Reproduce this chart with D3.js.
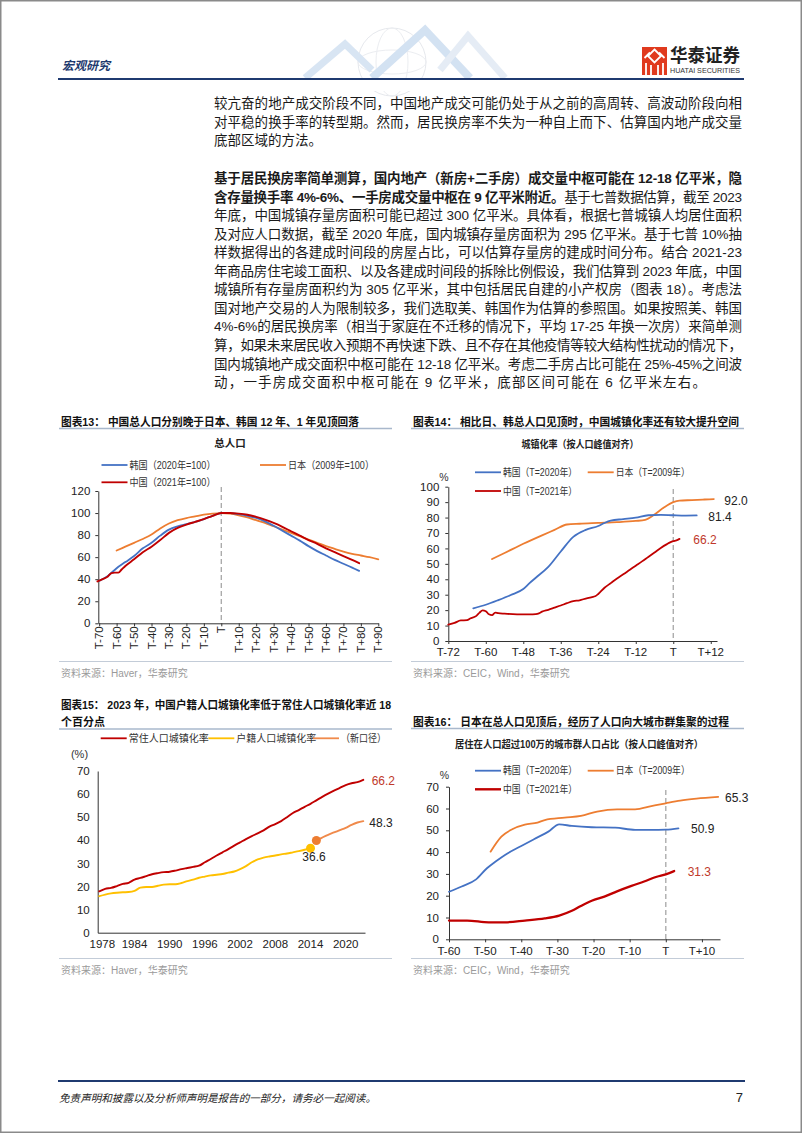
<!DOCTYPE html>
<html><head><meta charset="utf-8">
<script src="https://cdn.jsdelivr.net/npm/d3@7"></script>
<style>
body{margin:0;background:#fff;}
svg{display:block;}
text{font-family:"Liberation Sans","Noto Sans CJK SC",sans-serif;}
</style></head><body>
<svg id="page" width="802" height="1133"></svg>
<script>
// ---------- DATA ----------
// Body text lines (segments: [text, bold])
const para1 = [
  [["较亢奋的地产成交阶段不同，中国地产成交可能仍处于从之前的高周转、高波动阶段向相", false]],
  [["对平稳的换手率的转型期。然而，居民换房率不失为一种自上而下、估算国内地产成交量", false]],
  [["底部区域的方法。", false]]
];
const para2 = [
  [["基于居民换房率简单测算，国内地产（新房+二手房）成交量中枢可能在 12-18 亿平米，隐", true]],
  [["含存量换手率 4%-6%、一手房成交量中枢在 9 亿平米附近。", true], ["基于七普数据估算，截至 2023", false]],
  [["年底，中国城镇存量房面积可能已超过 300 亿平米。具体看，根据七普城镇人均居住面积", false]],
  [["及对应人口数据，截至 2020 年底，国内城镇存量房面积为 295 亿平米。基于七普 10%抽", false]],
  [["样数据得出的各建成时间段的房屋占比，可以估算存量房的建成时间分布。结合 2021-23", false]],
  [["年商品房住宅竣工面积、以及各建成时间段的拆除比例假设，我们估算到 2023 年底，中国", false]],
  [["城镇所有存量房面积约为 305 亿平米，其中包括居民自建的小产权房（图表 18）。考虑法", false]],
  [["国对地产交易的人为限制较多，我们选取美、韩国作为估算的参照国。如果按照美、韩国", false]],
  [["4%-6%的居民换房率（相当于家庭在不迁移的情况下，平均 17-25 年换一次房）来简单测", false]],
  [["算，如果未来居民收入预期不再快速下跌、且不存在其他疫情等较大结构性扰动的情况下，", false]],
  [["国内城镇地产成交面积中枢可能在 12-18 亿平米。考虑二手房占比可能在 25%-45%之间波", false]],
  [["动，一手房成交面积中枢可能在 9 亿平米，底部区间可能在 6 亿平米左右。", false]]
];

// Chart 13: total population (peak = 100), x = years relative to peak T
const c13Ticks = [-70,-60,-50,-40,-30,-20,-10,0,10,20,30,40,50,60,70,80,90];
const c13YTicks = [0,20,40,60,80,100,120];
const c13KoreaT = [-70,-65,-60,-55,-50,-45,-40,-35,-30,-25,-20,-15,-10,-5,0,5,10,15,20,25,30,35,40,45,50,55,60,65,70,75,79];
const c13KoreaV = [38.5,43,50,55.5,61,68,73,79.5,85,88,90,92,94.5,97.5,100,100,99,97.5,95.5,92.5,88.5,84,79.5,75,70,65.5,61.5,57.5,54,50.5,47.5];
const c13JapanT = [-60,-55,-50,-45,-40,-35,-30,-25,-20,-15,-10,-5,0,5,10,15,20,25,30,35,40,45,50,55,60,65,70,75,80,85,90];
const c13JapanV = [66,69.5,73,76.5,80.5,86,90.5,93.5,95.5,97,98.5,99.5,100,99.5,98,96,93.5,91,88,85,82,79,76,73,70,67.5,65,63,61.5,60,58];
const c13ChinaT = [-71,-68,-65,-63,-61,-59,-57,-55,-50,-45,-40,-35,-30,-25,-20,-15,-10,-5,0,5,10,15,20,25,30,35,40,45,50,55,60,65,70,75,79];
const c13ChinaV = [38,40,42.5,45.5,46,46,49,52,58,64.5,69.5,75.5,82,86.5,89.5,92,94.5,97.5,100,100,99.5,98.5,96.5,94,91,87.5,83.5,79.5,75.5,72,68,64.5,61,57.5,54.5];

// Chart 14: urbanisation rate aligned by population peak
const c14Ticks = [-72,-60,-48,-36,-24,-12,0,12];
const c14YTicks = [0,10,20,30,40,50,60,70,80,90,100];
const c14KoreaT = [-64,-60,-56,-52,-48,-46,-44,-40,-36,-32,-28,-24,-22,-20,-16,-12,-8,-4,0,4,7.5];
const c14KoreaV = [21.2,23.5,26.5,29.8,33.7,37.5,41,48,58,67.5,72,74.5,76.5,78,79,80,81.5,81.8,81.5,81.3,81.4];
const c14JapanT = [-58,-54,-48,-42,-38,-34,-30,-24,-18,-12,-9,-6,-3,0,2,6,10,13];
const c14JapanV = [53.1,57,63,68.5,72,75.5,76,76.5,77,77.8,78.5,82,86.5,90,91,91.3,91.7,92.0];
const c14ChinaT = [-72,-70,-68,-66,-65,-63,-62,-61,-60,-59,-58,-57,-56,-54,-50,-46,-44,-43,-42,-40,-38,-36,-34,-32,-30,-28,-26,-25,-24,-22,-20,-18,-16,-14,-12,-10,-8,-6,-4,-2,-1,0,1,2];
const c14ChinaV = [10.6,11.8,13.3,13.5,14.6,16.3,18.4,19.8,19.3,17.3,16.8,18.4,18.0,17.7,17.3,17.2,17.4,17.9,19.0,20.2,21.6,23.0,24.5,25.8,26.4,27.5,28.5,29.0,30.5,34.5,37.5,40.5,43.2,46.0,48.8,51.6,54.5,57.4,60.3,62.8,63.9,64.7,65.2,66.2];

// Chart 15: resident vs hukou urbanisation rate
const c15Ticks = [1978,1984,1990,1996,2002,2008,2014,2020];
const c15YTicks = [0,10,20,30,40,50,60,70];
const c15ResidentYears = d3.range(1978, 2024);
const c15Resident = [17.9,19.0,19.4,20.2,21.1,21.6,23.0,23.7,24.5,25.3,25.8,26.2,26.4,26.9,27.5,28.0,28.5,29.0,30.5,31.9,33.4,34.8,36.2,37.7,39.1,40.5,41.8,43.0,44.3,45.9,47.0,48.3,50.0,51.8,53.1,54.5,55.8,57.3,58.8,60.2,61.5,62.7,63.9,64.7,65.2,66.2];
const c15HukouYears = d3.range(1978, 2015);
const c15Hukou = [15.8,16.5,17.0,17.3,17.5,17.6,18.1,19.5,19.8,19.8,20.3,20.8,21.0,21.0,21.5,22.3,23.0,23.8,24.3,24.8,25.1,25.4,26.0,26.5,27.5,28.8,30.5,31.7,32.5,33.0,33.4,33.9,34.3,34.8,35.3,35.9,36.6];
const c15NewYears = d3.range(2015, 2024);
const c15New = [39.9,41.2,42.4,43.4,44.4,45.4,46.7,47.7,48.3];

// Chart 16: share of population in metro areas >1m
const c16Ticks = [-60,-50,-40,-30,-20,-10,0,10];
const c16YTicks = [0,10,20,30,40,50,60,70];
const c16KoreaT = [-60,-56.5,-52.5,-49.5,-47,-44.5,-40,-36.5,-32.5,-29.5,-26,-20.5,-14,-8.5,-4,0,3.5];
const c16KoreaV = [21.8,24.2,27.5,32.6,35.8,38.7,42.8,45.9,49.4,52.7,52.0,51.4,51.2,50.2,50.2,50.3,50.9];
const c16JapanT = [-48.5,-45.5,-42.5,-39,-35.5,-33.5,-28,-23.5,-19,-13.5,-8.5,-4,0,4,8.5,14.5];
const c16JapanV = [40.2,47.1,50.5,52.6,53.5,54.7,55.8,56.6,58.6,59.6,59.6,61.1,62.4,63.6,64.5,65.3];
const c16ChinaT = [-60,-55,-49,-44.5,-39,-33.5,-29.5,-26,-23.5,-20.5,-17,-13.5,-9.5,-6,-2.5,0,2.3];
const c16ChinaV = [8.6,8.6,7.8,7.8,8.6,9.6,10.9,13.1,15.3,17.7,19.6,22.0,24.5,26.5,28.7,29.8,31.3];

// ---------- DRAW ----------
const BLUE = "#4472c4", ORANGE = "#ed7d31", RED = "#c00000", YELLOW = "#ffc000";
const svg = d3.select("#page");
const CJK = '"Noto Sans CJK SC","Liberation Sans",sans-serif';

function txt(x, y, s, o = {}) {
  const t = svg.append("text").attr("x", x).attr("y", y).text(s)
    .attr("font-size", o.size || 11).attr("fill", o.fill || "#222")
    .attr("text-anchor", o.anchor || "start");
  if (o.bold) t.attr("font-weight", "bold");
  if (o.italic) t.attr("font-style", "italic");
  if (o.family) t.attr("font-family", o.family);
  if (o.len) t.attr("textLength", o.len).attr("lengthAdjust", "spacingAndGlyphs");
  if (o.dy) t.attr("dy", o.dy);
  return t;
}

// page border
svg.append("rect").attr("x", 0.75).attr("y", 0.75).attr("width", 800.5).attr("height", 1131.5)
  .attr("fill", "none").attr("stroke", "#8a8a8a").attr("stroke-width", 1.5);

// header watermark
const wm = svg.append("g").attr("opacity", 0.45);
wm.append("circle").attr("cx", 392).attr("cy", 62).attr("r", 34).attr("fill", "none").attr("stroke", "#c9ced8").attr("stroke-width", 1);
wm.append("ellipse").attr("cx", 392).attr("cy", 62).attr("rx", 16).attr("ry", 34).attr("fill", "none").attr("stroke", "#d5d9e1");
wm.append("ellipse").attr("cx", 392).attr("cy", 62).attr("rx", 34).attr("ry", 12).attr("fill", "none").attr("stroke", "#d5d9e1");
wm.append("path").attr("d", "M305,78 L345,44 L372,70").attr("fill", "none").attr("stroke", "#aac6e6").attr("stroke-width", 7);
wm.append("path").attr("d", "M372,78 L425,30 L470,78").attr("fill", "none").attr("stroke", "#9fbfe3").attr("stroke-width", 8);
wm.append("path").attr("d", "M440,70 L468,36 L505,78").attr("fill", "none").attr("stroke", "#c6d6ea").attr("stroke-width", 7);
svg.append("rect").attr("x", 290).attr("y", 79).attr("width", 240).attr("height", 12).attr("fill", "#fff");

// header
txt(62, 69.5, "宏观研究", {size: 12, bold: true, italic: true, fill: "#1e3a6e", family: CJK, len: 48});
svg.append("line").attr("x1", 58).attr("x2", 744).attr("y1", 79).attr("y2", 79).attr("stroke", "#1f3a70").attr("stroke-width", 2);
svg.append("rect").attr("x", 642).attr("y", 47).attr("width", 25).attr("height", 28).attr("fill", "#e03a1e");
svg.append("path").attr("d", "M654.5,49.5 L661,56 L654.5,62.5 L648,56 Z M644.5,58 L650,52.5 M664.5,58 L659,52.5 M646,75 L646,63 M651,75 L651,65 M658,75 L658,65 M663,75 L663,63")
  .attr("fill", "none").attr("stroke", "#fff").attr("stroke-width", 1.8);
txt(670, 62, "华泰证券", {size: 18, bold: true, fill: "#222", family: CJK, len: 70});
txt(670, 73, "HUATAI SECURITIES", {size: 7, fill: "#333", len: 70});

// body text
function para(lines, y0, lastFree) {
  lines.forEach((segs, i) => {
    const t = svg.append("text").attr("x", 214).attr("y", y0 + i * 18.55)
      .attr("font-size", 13.5).attr("fill", "#1a1a1a").attr("font-family", '"Liberation Sans","Noto Sans CJK SC",sans-serif');
    segs.forEach(s => {
      const ts = t.append("tspan").text(s[0]);
      if (s[1]) ts.attr("font-weight", "bold");
    });
    const last = i === lines.length - 1;
    if (!last) t.attr("textLength", 528).attr("lengthAdjust", "spacing");
    else if (lastFree) t.attr("textLength", lastFree).attr("lengthAdjust", "spacing");
  });
}
para(para1, 108, null);
para(para2, 183, 492);

// chart helpers
function chartFrame(x0, x1, titleLines, titleY, ulY, srcLineY, srcText, titleLen) {
  titleLines.forEach((s, i) => {
    txt(x0 + 2, titleY + i * 16.7, s, {size: 11.5, bold: true, fill: "#111", family: CJK, len: titleLen[i]});
  });
  svg.append("line").attr("x1", x0).attr("x2", x1).attr("y1", ulY).attr("y2", ulY).attr("stroke", "#a9b8cc").attr("stroke-width", 1.5);
  svg.append("line").attr("x1", x0).attr("x2", x1).attr("y1", srcLineY).attr("y2", srcLineY).attr("stroke", "#c3ccd8").attr("stroke-width", 1.2);
  txt(x0 + 2, srcLineY + 15.5, srcText, {size: 10, fill: "#9a9a9a", family: '"Liberation Sans","Noto Sans CJK SC",sans-serif'});
}

function axes(x, y, yTicks, xTicks, xFmt, yPad, xLabelY, rotated) {
  const [xa, xb] = x.range();
  const [ya, yb] = y.range();
  const gy = svg.append("g").attr("transform", `translate(${xa},0)`)
    .call(d3.axisLeft(y).tickValues(yTicks).tickSize(3).tickSizeOuter(0).tickPadding(yPad));
  const gx = svg.append("g").attr("transform", `translate(0,${ya})`)
    .call(d3.axisBottom(x).tickValues(xTicks).tickSize(3).tickSizeOuter(0).tickFormat(""));
  [gy, gx].forEach(g => {
    g.select(".domain").attr("stroke", "#333").attr("stroke-width", 1);
    g.selectAll(".tick line").attr("stroke", "#333");
    g.selectAll("text").attr("font-size", 11.5).attr("fill", "#222").attr("font-family", '"Liberation Sans",sans-serif');
  });
  xTicks.forEach(t => {
    if (rotated) {
      svg.append("text").attr("transform", `translate(${x(t)},${ya + 3}) rotate(-90)`)
        .attr("text-anchor", "end").attr("dy", "0.35em").attr("font-size", 11.5).attr("fill", "#222").text(xFmt(t));
    } else {
      svg.append("text").attr("x", x(t)).attr("y", xLabelY).attr("text-anchor", "middle").attr("dy", "0.35em")
        .attr("font-size", 11.5).attr("fill", "#222").text(xFmt(t));
    }
  });
}

function series(x, y, T, V, color, w) {
  const line = d3.line().x(d => x(d[0])).y(d => y(d[1])).curve(d3.curveMonotoneX);
  svg.append("path").datum(d3.zip(T, V)).attr("d", line).attr("fill", "none")
    .attr("stroke", color).attr("stroke-width", w).attr("stroke-linejoin", "round").attr("stroke-linecap", "round");
}

function legendItem(x, y, color, label, w, len) {
  svg.append("line").attr("x1", x).attr("x2", x + 26).attr("y1", y).attr("y2", y).attr("stroke", color).attr("stroke-width", w || 1.8);
  txt(x + 28, y, label, {size: 10.5, fill: "#333", family: CJK, dy: "0.35em", len: len});
}

function vdash(x, t, y, top) {
  svg.append("line").attr("x1", x(t)).attr("x2", x(t)).attr("y1", top).attr("y2", y.range()[0])
    .attr("stroke", "#a6a6a6").attr("stroke-width", 1.3).attr("stroke-dasharray", "5,3");
}
const tFmt = t => t < 0 ? "T" + t : (t === 0 ? "T" : "T+" + t);

// ---- Chart 13 ----
chartFrame(59, 392, ["图表13：  中国总人口分别晚于日本、韩国 12 年、1 年见顶回落"], 426, 428.5, 661.5, "资料来源：Haver，华泰研究", [298]);
{
  const x = d3.scaleLinear().domain([-70.5, 90]).range([98.3, 378.3]);
  const y = d3.scaleLinear().domain([0, 120]).range([623.3, 491]);
  txt(230, 447, "总人口", {size: 10.5, bold: true, anchor: "middle", family: CJK, fill: "#222"});
  legendItem(101.5, 465, BLUE, "韩国（2020年=100）", 1.8, 86);
  legendItem(260, 465, ORANGE, "日本（2009年=100）", 1.8, 86);
  legendItem(101.5, 482.3, RED, "中国（2021年=100）", 1.8, 86);
  vdash(x, 0, y, 487);
  axes(x, y, c13YTicks, c13Ticks, tFmt, 5, 0, true);
  series(x, y, c13JapanT, c13JapanV, ORANGE, 1.8);
  series(x, y, c13KoreaT, c13KoreaV, BLUE, 1.8);
  series(x, y, c13ChinaT, c13ChinaV, RED, 1.9);
}

// ---- Chart 14 ----
chartFrame(411, 744, ["图表14：  相比日、韩总人口见顶时，中国城镇化率还有较大提升空间"], 426, 428.5, 661.5, "资料来源：CEIC，Wind，华泰研究", [326]);
{
  const x = d3.scaleLinear().domain([-72, 14]).range([448.3, 717]);
  const y = d3.scaleLinear().domain([0, 100]).range([641, 486.7]);
  txt(580, 448, "城镇化率（按人口峰值对齐）", {size: 10.5, bold: true, anchor: "middle", family: CJK, fill: "#222", len: 117});
  txt(444, 477, "%", {size: 10.5, anchor: "middle", fill: "#333", dy: "0.35em"});
  legendItem(475, 472.3, BLUE, "韩国（T=2020年）", 1.8, 74);
  legendItem(587.7, 472.3, ORANGE, "日本（T=2009年）", 1.8, 74);
  legendItem(475, 491, RED, "中国（T=2021年）", 1.8, 74);
  vdash(x, 0, y, 489);
  axes(x, y, c14YTicks, c14Ticks, tFmt, 6, 651.7, false);
  series(x, y, c14JapanT, c14JapanV, ORANGE, 1.8);
  series(x, y, c14KoreaT, c14KoreaV, BLUE, 1.8);
  series(x, y, c14ChinaT, c14ChinaV, RED, 1.8);
  txt(724.3, 501, "92.0", {size: 12, dy: "0.35em", fill: "#222"});
  txt(708.3, 516.7, "81.4", {size: 12, dy: "0.35em", fill: "#222"});
  txt(693.3, 540, "66.2", {size: 12, dy: "0.35em", fill: "#c0392b"});
}

// ---- Chart 15 ----
chartFrame(59, 392, ["图表15：  2023 年，中国户籍人口城镇化率低于常住人口城镇化率近 18", "个百分点"], 709, 729, 958.5, "资料来源：Haver，华泰研究", [330, 44]);
{
  const x = d3.scaleLinear().domain([1978, 2023]).range([99.3, 363.3]);
  const y = d3.scaleLinear().domain([0, 70]).range([932.7, 771]);
  legendItem(100.7, 738.3, RED, "常住人口城镇化率", 1.8, 80);
  legendItem(208.3, 738.3, YELLOW, "户籍人口城镇化率", 1.8, 80);
  legendItem(313, 738.3, "#f08a4b", "（新口径）", 1.8, 45);
  txt(79.5, 754, "(%)", {size: 11, anchor: "middle", dy: "0.35em", fill: "#333"});
  const yAx = svg.append("g").attr("transform", "translate(97.7,0)")
    .call(d3.axisLeft(y).tickValues(c15YTicks).tickSize(0).tickPadding(8).tickSizeOuter(0));
  yAx.select(".domain").attr("stroke", "#333");
  yAx.selectAll("text").attr("font-size", 11.5).attr("fill", "#222").attr("font-family", '"Liberation Sans",sans-serif');
  const xAx = svg.append("g").attr("transform", "translate(0,932.7)")
    .call(d3.axisBottom(d3.scaleLinear().domain([1977.72, 2023.3]).range([97.7, 365])).tickValues([]).tickSizeOuter(0));
  xAx.select(".domain").attr("stroke", "#333");
  c15Ticks.forEach(t => {
    svg.append("text").attr("x", x(t) + (t === 1978 ? 3 : 0)).attr("y", 944).attr("dy", "0.35em")
      .attr("text-anchor", "middle").attr("font-size", 11.5).attr("fill", "#222").text(t);
  });
  series(x, y, c15ResidentYears, c15Resident, RED, 1.9);
  series(x, y, c15HukouYears, c15Hukou, YELLOW, 1.9);
  series(x, y, c15NewYears, c15New, "#f08a4b", 1.9);
  svg.append("circle").attr("cx", x(2014)).attr("cy", y(36.6)).attr("r", 4.5).attr("fill", YELLOW);
  svg.append("circle").attr("cx", x(2015)).attr("cy", y(39.9)).attr("r", 4.5).attr("fill", ORANGE);
  txt(371.7, 780.7, "66.2", {size: 12, dy: "0.35em", fill: "#c0392b"});
  txt(369.3, 822.7, "48.3", {size: 12, dy: "0.35em", fill: "#222"});
  txt(314, 856.7, "36.6", {size: 12, dy: "0.35em", fill: "#222", anchor: "middle"});
}

// ---- Chart 16 ----
chartFrame(411, 744, ["图表16：  日本在总人口见顶后，经历了人口向大城市群集聚的过程"], 726, 728.5, 958.5, "资料来源：CEIC，Wind，华泰研究", [316]);
{
  const x = d3.scaleLinear().domain([-60, 15]).range([449, 720]);
  const y = d3.scaleLinear().domain([0, 70]).range([939.3, 786.7]);
  txt(579, 747.5, "居住在人口超过100万的城市群人口占比（按人口峰值对齐）", {size: 10.5, bold: true, anchor: "middle", family: CJK, fill: "#222", len: 248});
  txt(444.3, 775, "%", {size: 10.5, anchor: "middle", fill: "#333", dy: "0.35em"});
  legendItem(475, 770.7, BLUE, "韩国（T=2020年）", 1.8, 74);
  legendItem(587.7, 770.7, ORANGE, "日本（T=2009年）", 1.8, 74);
  legendItem(475, 789.3, RED, "中国（T=2021年）", 2.4, 74);
  vdash(x, 0, y, 790);
  axes(x, y, c16YTicks, c16Ticks, tFmt, 7, 950.7, false);
  series(x, y, c16JapanT, c16JapanV, ORANGE, 1.8);
  series(x, y, c16KoreaT, c16KoreaV, BLUE, 1.8);
  series(x, y, c16ChinaT, c16ChinaV, RED, 2.3);
  txt(725, 797.3, "65.3", {size: 12, dy: "0.35em", fill: "#222"});
  txt(691, 828.3, "50.9", {size: 12, dy: "0.35em", fill: "#222"});
  txt(687.7, 871.7, "31.3", {size: 12, dy: "0.35em", fill: "#c0392b"});
}

// footer
svg.append("line").attr("x1", 58).attr("x2", 745).attr("y1", 1081).attr("y2", 1081).attr("stroke", "#1f3a70").attr("stroke-width", 2);
txt(59, 1102, "免责声明和披露以及分析师声明是报告的一部分，请务必一起阅读。", {size: 10.5, italic: true, fill: "#222", family: CJK, len: 317});
txt(743, 1102, "7", {size: 13, anchor: "end", fill: "#222"});
</script>
</body></html>
